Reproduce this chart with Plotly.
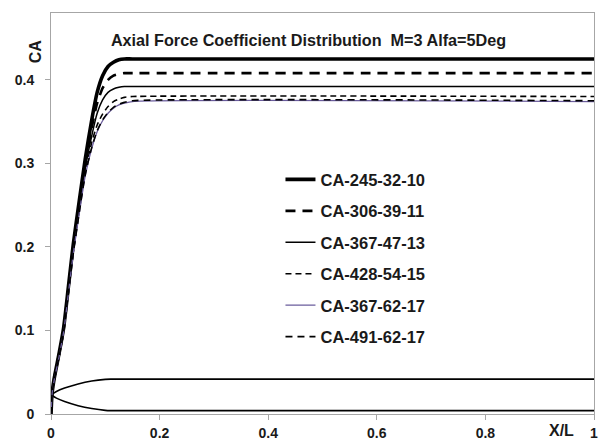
import plotly.graph_objects as go

# Axial position along the body (X/L) for the CA distributions
x_ca = [0, 0.002, 0.006, 0.015, 0.023, 0.032, 0.041, 0.052, 0.063, 0.075,
        0.085, 0.095, 0.105, 0.115, 0.125, 0.135, 0.15, 1.0]

ca_245_32_10 = [0, 0.025, 0.043, 0.073, 0.102, 0.152, 0.203, 0.255, 0.305, 0.352,
                0.385, 0.405, 0.416, 0.421, 0.424, 0.425, 0.425, 0.425]
ca_306_39_11 = [0, 0.025, 0.043, 0.072, 0.100, 0.150, 0.200, 0.251, 0.300, 0.343,
                0.372, 0.390, 0.400, 0.405, 0.407, 0.408, 0.408, 0.408]
ca_367_47_13 = [0, 0.025, 0.042, 0.071, 0.099, 0.148, 0.197, 0.247, 0.294, 0.333,
                0.360, 0.376, 0.385, 0.389, 0.391, 0.392, 0.392, 0.392]
ca_428_54_15 = [0, 0.024, 0.042, 0.070, 0.098, 0.146, 0.194, 0.243, 0.289, 0.325,
                0.346, 0.359, 0.368, 0.374, 0.377, 0.379, 0.380, 0.380]
ca_367_62_17 = [0, 0.024, 0.041, 0.069, 0.097, 0.144, 0.192, 0.240, 0.285, 0.318,
                0.338, 0.351, 0.360, 0.366, 0.370, 0.372, 0.374, 0.374]
ca_491_62_17 = [0, 0.024, 0.041, 0.069, 0.097, 0.145, 0.192, 0.241, 0.286, 0.319,
                0.339, 0.352, 0.361, 0.367, 0.371, 0.373, 0.375, 0.375]

# Body contour (ogive nose + cylinder), drawn in the same axes
x_body = [0, 0.01, 0.025, 0.05, 0.075, 0.10, 0.11, 1.0]
body_upper = [0.023, 0.027, 0.031, 0.036, 0.0395, 0.0415, 0.0418, 0.0418]
body_lower = [0.023, 0.019, 0.015, 0.0100, 0.0065, 0.0043, 0.0040, 0.0040]

x_ticks = [0, 0.2, 0.4, 0.6, 0.8, 1]
x_tick_text = ["0", "0.2", "0.4", "0.6", "0.8", "1"]
y_ticks = [0, 0.1, 0.2, 0.3, 0.4]
y_tick_text = ["0", "0.1", "0.2", "0.3", "0.4"]

FONT = "Liberation Sans"
INK = "#1a1a1a"
series = [
    ("CA-245-32-10", ca_245_32_10, dict(color="black", width=3.6)),
    ("CA-306-39-11", ca_306_39_11, dict(color="black", width=2.6, dash="10px,7px")),
    ("CA-367-47-13", ca_367_47_13, dict(color="black", width=1.5)),
    ("CA-428-54-15", ca_428_54_15, dict(color="black", width=1.6, dash="6px,4px")),
    ("CA-367-62-17", ca_367_62_17, dict(color="#6a5c9c", width=1.3)),
    ("CA-491-62-17", ca_491_62_17, dict(color="black", width=1.6, dash="7px,5px")),
]

fig = go.Figure()

for upper_lower in (body_upper, body_lower):
    fig.add_trace(go.Scatter(x=x_body, y=upper_lower, mode="lines",
                             line=dict(color="black", width=1.6, shape="spline",
                                       smoothing=0.8),
                             showlegend=False, hoverinfo="skip"))

for i, (name, values, line) in enumerate(series):
    fig.add_trace(go.Scatter(x=x_ca, y=values, mode="lines", name=name,
                             legendgroup=f"g{i}",
                             line=dict(shape="spline", smoothing=0.6, **line)))

axis_common = dict(showline=True, linecolor="#a6a6a6", linewidth=1, mirror=True,
                   showgrid=False, zeroline=False, ticks="outside",
                   tickcolor="#a6a6a6", ticklen=5, automargin=False,
                   tickfont=dict(family=FONT, size=14, color=INK, weight="bold"))

fig.update_xaxes(range=[0, 1], tickvals=x_ticks, ticktext=x_tick_text,
                 ticklabelstandoff=1, **axis_common)
fig.update_yaxes(range=[0, 0.48], tickvals=y_ticks, ticktext=y_tick_text,
                 ticklabelstandoff=8, **axis_common)

fig.update_layout(
    width=599, height=441,
    margin=dict(l=51, r=5, t=13, b=27),
    paper_bgcolor="white", plot_bgcolor="white",
    title=dict(text="Axial Force Coefficient Distribution  M=3 Alfa=5Deg",
               x=0.515, xref="container", xanchor="center",
               y=1 - 40 / 441, yref="container", yanchor="middle",
               font=dict(family=FONT, size=16.2, color=INK, weight="bold")),
    legend=dict(x=0.4226, y=0.628, xanchor="left", yanchor="top",
                bgcolor="rgba(0,0,0,0)", tracegroupgap=7,
                font=dict(family=FONT, size=16.5, color=INK, weight="bold")),
    annotations=[
        dict(text="CA", xref="paper", yref="paper", x=-0.029, y=0.905,
             textangle=-90, showarrow=False, xanchor="center", yanchor="middle",
             font=dict(family=FONT, size=16, color=INK, weight="bold")),
        dict(text="X/L", xref="paper", yref="paper", x=0.94, y=-0.04,
             showarrow=False, xanchor="center", yanchor="middle",
             font=dict(family=FONT, size=16, color=INK, weight="bold")),
    ],
)

fig.write_html("out.html")
